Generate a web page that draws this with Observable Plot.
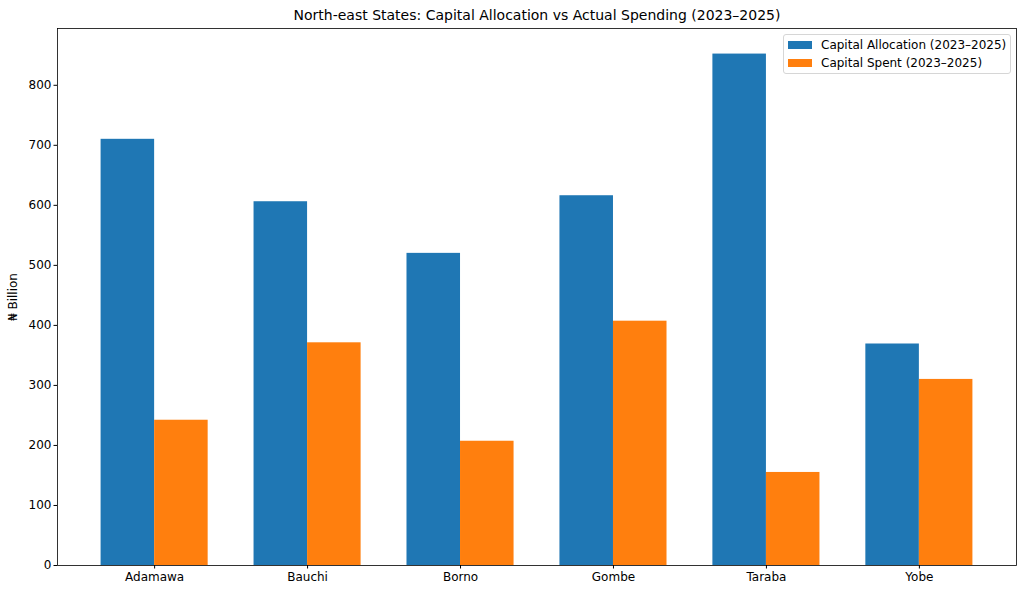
<!DOCTYPE html>
<html>
<head>
<meta charset="utf-8">
<script src="https://cdn.jsdelivr.net/npm/d3@7"></script>
<script src="https://cdn.jsdelivr.net/npm/@observablehq/plot@0.6"></script>
<style>
  html, body { margin: 0; padding: 0; background: #fff; }
  #wrap { position: relative; width: 1024px; height: 594px; font-family: "DejaVu Sans", sans-serif; }
  #legend {
    position: absolute; left: 783px; top: 34px; width: 228px; height: 40px;
    border: 1px solid #d6d6d6; border-radius: 3px; background: rgba(255,255,255,0.8);
    box-sizing: border-box; font-size: 12px; color: #000;
  }
  .row { position: absolute; left: 0; height: 18px; display: flex; align-items: center; white-space: nowrap; }
  .sw { width: 24px; height: 8px; margin-left: 4px; margin-right: 9px; }
</style>
</head>
<body>
<div id="wrap"><div id="legend"></div></div>
<script>
const title = "North-east States: Capital Allocation vs Actual Spending (2023–2025)";
const yLabel = "₦ Billion";
const states = ["Adamawa", "Bauchi", "Borno", "Gombe", "Taraba", "Yobe"];
const allocation = [710, 606, 520, 616, 852, 369];
const spent = [242, 371, 207, 407, 155, 310];
const yTicks = [0, 100, 200, 300, 400, 500, 600, 700, 800];
const seriesNames = ["Capital Allocation (2023–2025)", "Capital Spent (2023–2025)"];
const seriesColors = ["#1f77b4", "#ff7f0e"];

const rows = states.map((s, i) => ({state: s, allocation: allocation[i], spent: spent[i]}));

const W = 1024, H = 594, mL = 57, mR = 8, mT = 28, mB = 29;
const PI = 0.3, PO = 0.285;
const step = (W - mL - mR) / (states.length - PI + 2 * PO);
const half = step * (1 - PI) / 2;
const yMax = d3.max(allocation) * 1.05;

const chart = Plot.plot({
  width: W, height: H,
  marginLeft: mL, marginRight: mR, marginTop: mT, marginBottom: mB,
  style: {fontFamily: "DejaVu Sans, sans-serif", fontSize: "12px", color: "#000", background: "#fff"},
  x: {domain: states, paddingInner: PI, paddingOuter: PO, round: false, label: null},
  y: {domain: [0, yMax], label: null},
  marks: [
    Plot.barY(rows, {x: "state", y: "allocation", fill: seriesColors[0], insetRight: half}),
    Plot.barY(rows, {x: "state", y: "spent", fill: seriesColors[1], insetLeft: half}),
    Plot.frame({stroke: "#000", strokeWidth: 0.8}),
    Plot.axisX({tickSize: 3.5, tickPadding: 3, label: null, fontSize: 12}),
    Plot.axisY({ticks: yTicks, tickSize: 3.5, tickPadding: 2.5, label: null, fontSize: 12}),
    Plot.text([yLabel], {frameAnchor: "left", dx: -44, rotate: -90, text: d => d, fontSize: 12, textAnchor: "middle", lineAnchor: "middle"}),
    Plot.text([title], {frameAnchor: "top", dy: -13, text: d => d, fontSize: 14, textAnchor: "middle", lineAnchor: "middle"})
  ]
});
document.getElementById("wrap").prepend(chart);

const legend = document.getElementById("legend");
seriesNames.forEach((name, i) => {
  const r = document.createElement("div");
  r.className = "row";
  r.style.top = (i === 0 ? 1 : 19) + "px";
  const sw = document.createElement("div");
  sw.className = "sw";
  sw.style.background = seriesColors[i];
  const t = document.createElement("span");
  t.textContent = name;
  r.appendChild(sw); r.appendChild(t);
  legend.appendChild(r);
});
</script>
</body>
</html>
